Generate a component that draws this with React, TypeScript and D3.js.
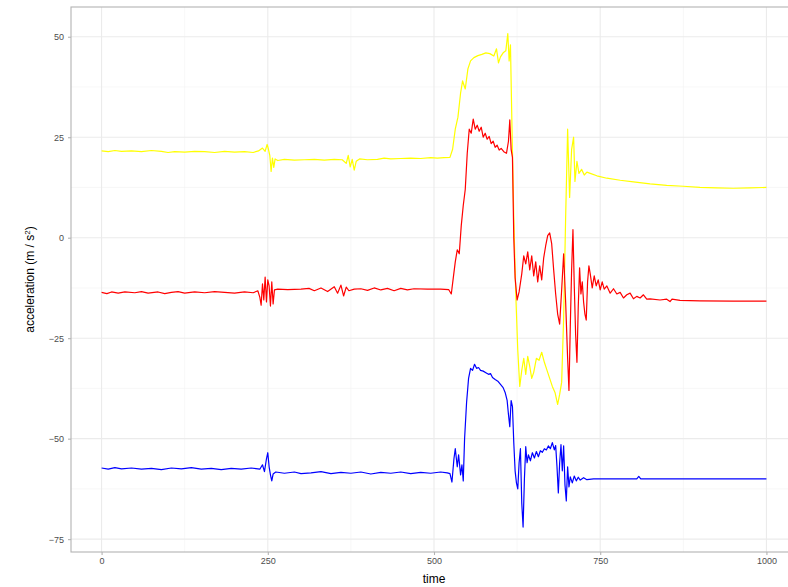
import { useEffect, useRef } from "react";
import * as d3 from "d3";

// yellow series (time, acceleration)
const yellowT = [0, 10, 20, 30, 45, 60, 75, 90, 100, 110, 125, 140, 155, 170, 185, 200, 215, 228, 236, 242, 246, 249, 251, 253, 255, 257, 259, 261, 265, 275, 290, 305, 320, 335, 350, 362, 368, 371, 374, 377, 380, 383, 388, 400, 415, 425, 435, 450, 465, 480, 495, 505, 515, 524, 528, 532, 536, 540, 543, 547, 551, 555, 560, 566, 572, 578, 584, 590, 594, 597, 600, 604, 608, 611, 613, 615, 617, 620, 623, 626, 629, 632, 635, 638, 641, 644, 647, 650, 654, 658, 662, 666, 670, 674, 678, 682, 686, 689, 692, 695, 698, 701, 704, 707, 710, 712, 715, 718, 722, 726, 730, 735, 745, 760, 780, 800, 825, 850, 875, 900, 925, 950, 975, 1000];
const yellowV = [21.6, 21.4, 21.7, 21.5, 21.6, 21.4, 21.7, 21.5, 21.2, 21.4, 21.3, 21.5, 21.4, 21.2, 21.5, 21.3, 21.4, 21.2, 21.6, 22.3, 21.5, 23.2, 22, 20.5, 16.5, 19.8, 17.5, 19.6, 19.2, 19.5, 19.3, 19.4, 19.5, 19.3, 19.5, 19.4, 18.5, 20.5, 17.6, 19.5, 16.8, 19, 19.6, 19.4, 19.5, 19.8, 19.6, 19.7, 19.8, 19.7, 19.9, 19.8, 19.9, 20, 22, 27, 30, 36, 39, 37, 42, 44, 44.8, 45.3, 45.6, 46, 45.8, 45.2, 47, 43.5, 45, 46, 46.5, 50.8, 44, 48, 30, 5, -14, -28, -37, -33, -30, -34, -29.5, -32, -35, -33.5, -30, -30.5, -28.5, -31, -33, -35, -37, -38.5, -41.5, -39, -36, -20, 5, 27, 10, 22, 25, 14, 19, 16, 17, 15.6, 16.3, 16, 15.4, 14.8, 14.3, 13.9, 13.4, 13, 12.8, 12.5, 12.4, 12.3, 12.4, 12.5];

// red series
const redT = [0, 8, 15, 25, 35, 50, 60, 70, 85, 95, 105, 115, 125, 140, 155, 170, 185, 200, 215, 228, 235, 238, 240, 242, 244, 246, 248, 250, 252, 254, 256, 258, 260, 265, 280, 300, 312, 320, 330, 340, 350, 355, 360, 364, 368, 372, 380, 390, 400, 410, 420, 430, 440, 450, 460, 470, 490, 510, 522, 526, 529, 532, 535, 538, 541, 544, 547, 550, 553, 556, 559, 562, 565, 568, 571, 574, 577, 580, 583, 586, 589, 592, 595, 598, 601, 605, 609, 612, 614, 616, 618, 620, 622, 625, 628, 632, 635, 638, 641, 644, 647, 650, 653, 656, 659, 662, 665, 668, 671, 674, 677, 680, 683, 686, 689, 692, 695, 698, 701, 703, 705, 707, 709, 711, 713, 715, 717, 719, 721, 723, 725, 727, 729, 731, 733, 735, 738, 741, 744, 747, 750, 753, 756, 760, 765, 770, 775, 780, 785, 790, 795, 800, 805, 810, 815, 820, 825, 840, 850, 855, 858, 870, 900, 950, 1000];
const redV = [-13.6, -13.9, -13.5, -13.8, -13.5, -13.7, -13.4, -13.8, -13.5, -13.9, -13.6, -13.4, -13.8, -13.5, -13.7, -13.4, -13.6, -13.8, -13.5, -13.7, -13.2, -14.8, -16.8, -11.5, -15.5, -9.8, -16, -10.5, -12, -17, -11, -16.5, -13, -12.8, -12.9, -12.8, -12.6, -13.2, -12.5, -13.4, -12.2, -13.8, -11.8, -14.5, -12.3, -13.2, -12.8, -12.7, -13.1, -12.5, -13, -12.6, -13.2, -12.6, -13, -12.7, -12.8, -12.8, -12.9, -14, -10, -6, -3, -4, 3, 8, 12, 21, 27, 26, 29.5, 27, 28, 26.5, 27.5, 25, 26, 24.5, 25.2, 23.4, 24, 22.5, 23, 21.8, 22.2, 21.4, 21, 24, 29.3, 22, 20, 0, -10, -15.5, -13.5, -9, -4.5, -6.5, -3.5, -8, -4.5, -9.5, -6, -11, -7, -10.5, -5, -2, 0.5, 1.2, -1.5, -8, -14, -19, -21.5, -13, -4, -16, -30, -38, -22, -8, 2, -12, -24, -31, -17, -7.5, -14, -11, -16, -19, -20.5, -11, -7, -9, -12.5, -9.5, -12, -10.5, -13, -11, -12.8, -12, -13.8, -12.7, -14, -13.6, -15, -14.2, -13.8, -15.2, -14.6, -15, -14.2, -15.3, -15.2, -15.5, -15.3, -15.9, -15.3, -15.6, -15.7, -15.8, -15.8];

// blue series
const blueT = [0, 10, 20, 30, 45, 60, 75, 90, 105, 120, 135, 150, 165, 180, 195, 210, 225, 238, 242, 245, 248, 250, 252, 254, 256, 258, 262, 275, 290, 300, 315, 330, 345, 360, 375, 390, 405, 420, 435, 450, 465, 480, 495, 510, 520, 524, 527, 530, 532, 535, 537, 540, 542, 544, 546, 549, 552, 555, 558, 561, 564, 567, 570, 574, 578, 582, 585, 588, 592, 596, 600, 604, 607, 610, 612, 614, 616, 618, 620, 622, 624, 626, 628, 630, 632, 634, 636, 638, 640, 642, 645, 648, 651, 654, 657, 660, 663, 666, 669, 672, 675, 678, 681, 683, 685, 687, 689, 691, 693, 695, 697, 699, 701, 703, 705, 708, 711, 714, 717, 720, 725, 730, 740, 760, 790, 805, 808, 811, 850, 900, 950, 1000];
const blueV = [-57.3, -57.6, -57.2, -57.5, -57.3, -57.6, -57.4, -57.7, -57.3, -57.5, -57.2, -57.6, -57.4, -57.7, -57.4, -57.6, -57.3, -57.6, -56.5, -58.2, -55, -53.5, -57, -59, -60.5, -58.8, -58.3, -58.6, -58.3, -58.7, -58.5, -58.2, -58.7, -58.4, -58.6, -58.3, -58.8, -58.4, -58.6, -58.3, -58.7, -58.4, -58.6, -58.3, -58.5, -58.7, -60.8, -55, -52.5, -57, -54, -59, -56.5, -60.5, -50, -41, -35, -32.5, -33, -31.5, -32.5, -32.3, -33, -33.2, -33.6, -34, -33.8, -34.8, -35.3, -35.7, -36.5, -37.3, -38.5, -40.5, -44, -47, -40.5, -42, -51, -58, -61, -62.5, -56, -52.5, -66, -72, -60, -52, -56, -54, -55.5, -53.5, -54.8, -53.2, -54.5, -53, -53.4, -52.5, -52.8, -51.8, -52.5, -51, -52.8, -51.7, -57, -63.5, -56, -51.5, -58, -51.8, -61.5, -65.5, -57, -62, -59.5, -61, -59.3, -60.5, -59.6, -60.3, -59.7, -60.2, -60, -60, -60, -60, -59.4, -60, -60, -60, -60, -60];

const xTicks = [0, 250, 500, 750, 1000];
const yTicks = [-75, -50, -25, 0, 25, 50];

const series = [
  { t: yellowT, v: yellowV, color: "#FFFF00" },
  { t: redT, v: redV, color: "#FF0000" },
  { t: blueT, v: blueV, color: "#0000FF" },
];

const App = () => {
  const ref = useRef<SVGSVGElement>(null);

  useEffect(() => {
    const W = 788;
    const H = 587;
    const MARGIN = { LEFT: 71, TOP: 7, RIGHT: -9, BOTTOM: 35 };

    const svg = d3.select(ref.current);
    svg.selectAll("*").remove();
    svg.attr("width", W).attr("height", H);

    const x = d3.scaleLinear().domain([-46, 1046]).range([MARGIN.LEFT, W - MARGIN.RIGHT]);
    const y = d3.scaleLinear().domain([-78.2, 57.4]).range([H - MARGIN.BOTTOM, MARGIN.TOP]);

    svg.append("rect").attr("width", W).attr("height", H).attr("fill", "white");

    // grid
    const minorX = xTicks.slice(0, -1).map((d) => d + 125);
    const minorY = yTicks.slice(0, -1).map((d) => d + 12.5);
    const grid = svg.append("g");
    minorX.forEach((d) =>
      grid.append("line").attr("x1", x(d)).attr("x2", x(d))
        .attr("y1", y.range()[1]).attr("y2", y.range()[0])
        .attr("stroke", "#F2F2F2").attr("stroke-width", 0.6));
    minorY.forEach((d) =>
      grid.append("line").attr("y1", y(d)).attr("y2", y(d))
        .attr("x1", x.range()[0]).attr("x2", x.range()[1])
        .attr("stroke", "#F2F2F2").attr("stroke-width", 0.6));
    xTicks.forEach((d) =>
      grid.append("line").attr("x1", x(d)).attr("x2", x(d))
        .attr("y1", y.range()[1]).attr("y2", y.range()[0])
        .attr("stroke", "#EBEBEB").attr("stroke-width", 1.1));
    yTicks.forEach((d) =>
      grid.append("line").attr("y1", y(d)).attr("y2", y(d))
        .attr("x1", x.range()[0]).attr("x2", x.range()[1])
        .attr("stroke", "#EBEBEB").attr("stroke-width", 1.1));

    // lines
    const line = d3.line<[number, number]>()
      .x((d) => x(d[0]))
      .y((d) => y(d[1]));
    series.forEach((s) => {
      const pts = s.t.map((t, i) => [t, s.v[i]] as [number, number]);
      svg.append("path")
        .attr("d", line(pts))
        .attr("fill", "none")
        .attr("stroke", s.color)
        .attr("stroke-width", 1.2)
        .attr("stroke-linejoin", "round");
    });

    // panel border
    svg.append("rect")
      .attr("x", x.range()[0]).attr("y", y.range()[1])
      .attr("width", x.range()[1] - x.range()[0])
      .attr("height", y.range()[0] - y.range()[1])
      .attr("fill", "none").attr("stroke", "#B3B3B3").attr("stroke-width", 1.1);

    const font = "'Liberation Sans', Arial, sans-serif";

    // axes
    const xAxis = svg.append("g")
      .attr("transform", `translate(0, ${y.range()[0]})`)
      .call(d3.axisBottom(x).tickValues(xTicks).tickSize(3).tickPadding(3).tickFormat(d3.format("d")));
    const yAxis = svg.append("g")
      .attr("transform", `translate(${x.range()[0]}, 0)`)
      .call(d3.axisLeft(y).tickValues(yTicks).tickSize(3).tickPadding(4).tickFormat(d3.format("d")));
    [xAxis, yAxis].forEach((a) => {
      a.select(".domain").remove();
      a.selectAll("line").attr("stroke", "#B3B3B3").attr("stroke-width", 1.1);
      a.selectAll("text").attr("fill", "#4D4D4D").attr("font-size", "9px").attr("font-family", font);
    });

    // axis titles
    svg.append("text")
      .attr("x", (x.range()[0] + x.range()[1]) / 2)
      .attr("y", H - 4)
      .attr("text-anchor", "middle")
      .attr("font-size", "12px")
      .attr("font-family", font)
      .attr("fill", "black")
      .text("time");

    const yl = svg.append("text")
      .attr("transform", `translate(34, ${(y.range()[0] + y.range()[1]) / 2}) rotate(-90)`)
      .attr("text-anchor", "middle")
      .attr("font-size", "12px")
      .attr("font-family", font)
      .attr("fill", "black");
    yl.append("tspan").text("acceleration (m / s");
    yl.append("tspan").attr("baseline-shift", "super").attr("font-size", "8px").text("2");
    yl.append("tspan").text(")");
  }, []);

  return <svg ref={ref} style={{ position: "absolute", left: 0, top: 0 }}></svg>;
};

export default App;
